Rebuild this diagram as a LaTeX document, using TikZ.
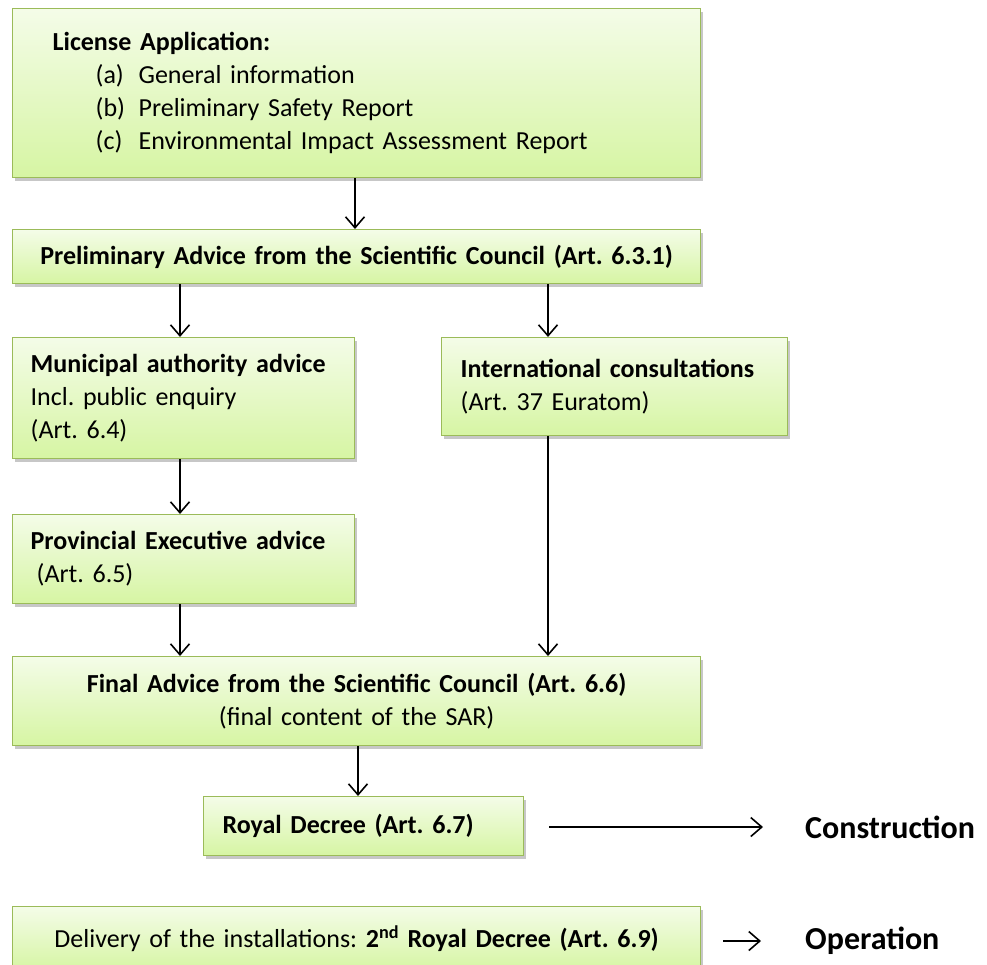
\documentclass[tikz,border=0pt]{standalone}
\usepackage{fontspec}
\setmainfont{Carlito}
\frenchspacing
\usetikzlibrary{arrows.meta,shadows}
\definecolor{boxline}{HTML}{9BBB59}
\definecolor{boxtop}{HTML}{F4FCE8}
\definecolor{boxbot}{HTML}{D6F5A3}
\tikzset{
  stagebox/.style={draw=boxline, line width=1.3pt, top color=boxtop, bottom color=boxbot,
    drop shadow={shadow xshift=2.5pt, shadow yshift=-3.5pt, opacity=0.22, fill=black},
    anchor=north west, inner ysep=0pt, font=\fontsize{26}{33}\selectfont},
  flow/.style={line width=1.6pt, -{Straight Barb[length=11pt,width=19pt,line width=1.6pt]}},
  outcome/.style={font=\fontsize{32}{38}\selectfont\bfseries, anchor=west, inner sep=0pt},
}
\begin{document}
\begin{tikzpicture}[x=1pt,y=-1pt]
\useasboundingbox (0,0) rectangle (987,964);

% arrow columns
\coordinate (colA) at (180,0);
\coordinate (colB) at (548,0);
\coordinate (colC) at (355,0);
\coordinate (colD) at (358,0);

% stages of the procedure
\node[stagebox, inner xsep=40pt, text width=608pt, minimum height=169pt, align=left] (app) at (12,8)
  {\textbf{License Application:}\\
   \hspace*{43pt}\makebox[43pt][l]{(a)}General information\\
   \hspace*{43pt}\makebox[43pt][l]{(b)}Preliminary Safety Report\\
   \hspace*{43pt}\makebox[43pt][l]{(c)}Environmental Impact Assessment Report};

\node[stagebox, inner xsep=10pt, text width=668pt, minimum height=54pt, align=center] (prelim) at (12,229)
  {\textbf{Preliminary Advice from the Scientific Council (Art.~6.3.1)}};

\node[stagebox, inner xsep=18pt, text width=306pt, minimum height=121pt, align=left] (muni) at (12,337)
  {\textbf{Municipal authority advice}\\ Incl. public enquiry\\ (Art.~6.4)};

\node[stagebox, inner xsep=19pt, text width=308pt, minimum height=98pt, align=left] (intl) at (441,337)
  {\textbf{International consultations}\\ (Art.~37 Euratom)};

\node[stagebox, inner xsep=18pt, text width=306pt, minimum height=89pt, align=left] (prov) at (12,514)
  {\textbf{Provincial Executive advice}\\ \hspace*{6pt}(Art.~6.5)};

\node[stagebox, inner xsep=10pt, text width=668pt, minimum height=89pt, align=center] (final) at (12,656)
  {\textbf{Final Advice from the Scientific Council (Art.~6.6)}\\ (final content of the SAR)};

\node[stagebox, inner xsep=19pt, text width=282pt, minimum height=59pt, align=left] (royal) at (203,796)
  {\textbf{Royal Decree (Art.~6.7)}};

\node[stagebox, inner xsep=10pt, text width=668pt, minimum height=64pt, align=center] (deliv) at (12,906)
  {Delivery of the installations: \textbf{2\textsuperscript{nd} Royal Decree (Art.~6.9)}};

% outcomes
\node[outcome] (constr) at (805,827) {Construction};
\node[outcome] (oper) at (805,941) {Operation};

% connectors
\draw[flow] (app.south -| colC) -- (prelim.north -| colC);
\draw[flow] (prelim.south -| colA) -- (muni.north -| colA);
\draw[flow] (prelim.south -| colB) -- (intl.north -| colB);
\draw[flow] (muni.south -| colA) -- (prov.north -| colA);
\draw[flow] (prov.south -| colA) -- (final.north -| colA);
\draw[flow] (intl.south -| colB) -- (final.north -| colB);
\draw[flow] (final.south -| colD) -- (royal.north -| colD);
\draw[flow] ([xshift=25pt]royal.east |- constr.west) -- ([xshift=-42pt]constr.west);
\draw[flow] ([xshift=22pt]deliv.east |- oper.west) -- ([xshift=-44pt]oper.west);
\end{tikzpicture}
\end{document}
